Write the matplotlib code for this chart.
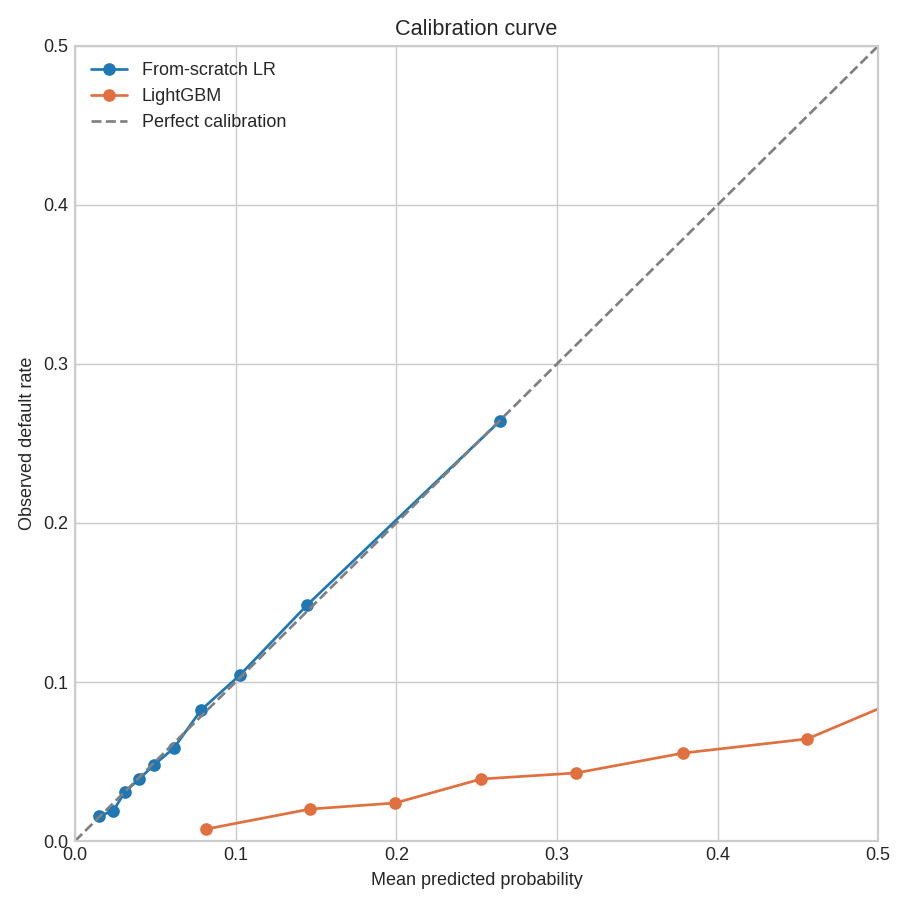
import matplotlib
matplotlib.use("Agg")
import matplotlib.pyplot as plt

# mean predicted probability / observed default rate per bin
lr_pred = [0.0149, 0.0237, 0.0311, 0.0399, 0.0492, 0.0616, 0.0785, 0.1027, 0.1445, 0.2646]
lr_obs = [0.0157, 0.0189, 0.0308, 0.0390, 0.0478, 0.0585, 0.0824, 0.1044, 0.1484, 0.2642]

lgb_pred = [0.0816, 0.1463, 0.1993, 0.2528, 0.3120, 0.3786, 0.4558, 0.5600]
lgb_obs = [0.0075, 0.0201, 0.0239, 0.0390, 0.0428, 0.0553, 0.0642, 0.1087]

diag = [0.0, 0.5]

plt.style.use("seaborn-v0_8-whitegrid")
plt.rcParams['font.family'] = ['Liberation Sans', 'DejaVu Sans']

fig, ax = plt.subplots(figsize=(7, 7), dpi=130)

ax.plot(lr_pred, lr_obs, marker='o', color='#1f77b4', label='From-scratch LR')
ax.plot(lgb_pred, lgb_obs, marker='o', color='#e0703f', label='LightGBM')
ax.plot(diag, diag, ls='--', color='gray', label='Perfect calibration')

ax.set_xlim(0, 0.5)
ax.set_ylim(0, 0.5)
ax.set_xticks([0, 0.1, 0.2, 0.3, 0.4, 0.5])
ax.set_yticks([0, 0.1, 0.2, 0.3, 0.4, 0.5])
ax.set_xticklabels(['0.0', '0.1', '0.2', '0.3', '0.4', '0.5'])
ax.set_yticklabels(['0.0', '0.1', '0.2', '0.3', '0.4', '0.5'])
for s in ax.spines.values():
    s.set_visible(True)
    s.set_color('#cccccc')
    s.set_linewidth(1.2)

ax.set_xlabel('Mean predicted probability')
ax.set_ylabel('Observed default rate')
ax.set_title('Calibration curve')
ax.legend(loc='upper left')

plt.subplots_adjust(left=0.0824, right=0.965, top=0.9495, bottom=0.0758)
plt.savefig('out.png')
